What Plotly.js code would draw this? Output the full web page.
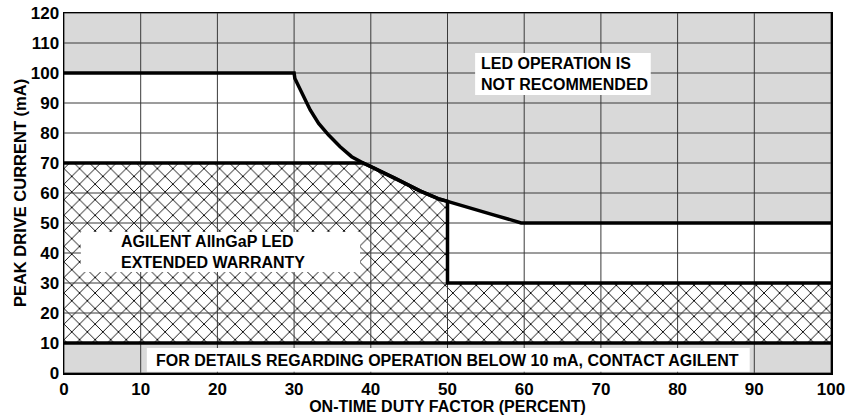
<!DOCTYPE html>
<html>
<head>
<meta charset="utf-8">
<script src="https://cdn.plot.ly/plotly-3.0.1.min.js"></script>
<style>html,body{margin:0;padding:0;background:#fff;}#chart{width:850px;height:415px;}</style>
</head>
<body>
<div id="chart"></div>
<script>
// ---- data ----
// Maximum recommended peak drive current vs duty factor
var limitX = [0, 30, 30.1, 31.0, 32.1, 33.2, 34.5, 36.0, 37.5, 39.0, 40.5, 43.2, 46.4, 49.0, 50, 52.9, 56.0, 58.6, 59.6, 100];
var limitY = [100, 100, 98.2, 93.2, 87.7, 83.2, 79.3, 75.4, 72.1, 70, 68.2, 64.9, 60.7, 57.9, 57.2, 54.9, 52.7, 50.8, 50, 50];
// Extended warranty upper boundary
var warrantyX = [0, 39.0, 40.5, 43.2, 46.4, 49.0, 50, 50, 100];
var warrantyY = [70, 70, 68.2, 64.9, 60.7, 57.9, 57.2, 30, 30];
// Minimum current line
var minX = [0, 100];
var minY = [10, 10];
// Axis ranges / ticks
var xRange = [0, 100];
var yRange = [0, 120];
var xTicks = [0, 10, 20, 30, 40, 50, 60, 70, 80, 90, 100];
var yTicks = [0, 10, 20, 30, 40, 50, 60, 70, 80, 90, 100, 110, 120];

// ---- derived ----
var grayTopX = limitX.concat([xRange[1], xRange[0]]);
var grayTopY = limitY.concat([yRange[1], yRange[1]]);
var hatchX = warrantyX.concat([minX[1], minX[0]]);
var hatchY = warrantyY.concat([minY[1], minY[0]]);

var gx = [], gy = [];
xTicks.forEach(function (t) { gx.push(t, t, null); gy.push(yRange[0], yRange[1], null); });
yTicks.forEach(function (t) { gx.push(xRange[0], xRange[1], null); gy.push(t, t, null); });

var FONT = 'Liberation Sans, Arial, Helvetica, sans-serif';
var GRAY = '#d9d9d9';

var traces = [
  { x: grayTopX, y: grayTopY, mode: 'lines', fill: 'toself', fillcolor: GRAY, line: { width: 0 }, hoverinfo: 'skip' },
  { x: minX, y: minY, mode: 'lines', fill: 'tozeroy', fillcolor: GRAY, line: { width: 0 }, hoverinfo: 'skip' },
  { x: hatchX, y: hatchY, mode: 'lines', fill: 'toself', fillcolor: '#fff',
    fillpattern: { shape: 'x', size: 11, solidity: 0.16, fgcolor: '#000', bgcolor: '#fff' },
    line: { width: 0 }, hoverinfo: 'skip' },
  { x: gx, y: gy, mode: 'lines', line: { color: '#3a3a3a', width: 1 }, connectgaps: false, hoverinfo: 'skip' },
  { x: limitX, y: limitY, mode: 'lines', line: { color: '#000', width: 3.5 }, hoverinfo: 'skip' },
  { x: warrantyX, y: warrantyY, mode: 'lines', line: { color: '#000', width: 3.5 }, hoverinfo: 'skip' },
  { x: minX, y: minY, mode: 'lines', line: { color: '#000', width: 3.5 }, hoverinfo: 'skip' }
];

var txt = { family: FONT, size: 16, color: '#000', weight: 'bold' };
var tick = { family: FONT, size: 17, color: '#000', weight: 'bold' };

var layout = {
  width: 850, height: 415,
  margin: { l: 64, r: 19, t: 13, b: 42 },
  paper_bgcolor: '#fff', plot_bgcolor: '#fff',
  showlegend: false,
  xaxis: {
    range: xRange, tickvals: xTicks, ticks: '', showgrid: false, zeroline: false,
    showline: true, mirror: true, linecolor: '#000', linewidth: 1.5,
    tickfont: tick, layer: 'above traces',
    title: { text: 'ON-TIME DUTY FACTOR (PERCENT)', font: txt, standoff: 0 }
  },
  yaxis: {
    range: yRange, tickvals: yTicks, ticks: '', showgrid: false, zeroline: false,
    showline: true, mirror: true, linecolor: '#000', linewidth: 1.5,
    tickfont: tick, layer: 'above traces',
    title: { text: 'PEAK DRIVE CURRENT (mA)', font: { family: FONT, size: 16.5, color: '#000', weight: 'bold' }, standoff: 0 }
  },
  shapes: [
    { type: 'rect', xref: 'x', yref: 'y', x0: 53.6, x1: 76.5, y0: 92.7, y1: 106.7, fillcolor: '#fff', line: { width: 0 }, layer: 'above' },
    { type: 'rect', xref: 'x', yref: 'y', x0: 2.2, x1: 38.6, y0: 33.7, y1: 47, fillcolor: '#fff', line: { width: 0 }, layer: 'above' },
    { type: 'rect', xref: 'x', yref: 'y', x0: 10.8, x1: 89.4, y0: 0.4, y1: 8.3, fillcolor: '#fff', line: { width: 0 }, layer: 'above' }
  ],
  annotations: [
    { xref: 'x', yref: 'y', x: 54.1, y: 99.7, xanchor: 'left', yanchor: 'middle', align: 'left', showarrow: false,
      text: 'LED OPERATION IS<br>NOT RECOMMENDED', font: txt },
    { xref: 'x', yref: 'y', x: 7.2, y: 40.3, xanchor: 'left', yanchor: 'middle', align: 'left', showarrow: false,
      text: 'AGILENT AlInGaP LED<br>EXTENDED WARRANTY', font: txt },
    { xref: 'x', yref: 'y', x: 50, y: 4.3, xanchor: 'center', yanchor: 'middle', showarrow: false,
      text: 'FOR DETAILS REGARDING OPERATION BELOW 10 mA, CONTACT AGILENT', font: txt }
  ]
};

Plotly.newPlot('chart', traces, layout, { displayModeBar: false, staticPlot: true });
</script>
</body>
</html>
